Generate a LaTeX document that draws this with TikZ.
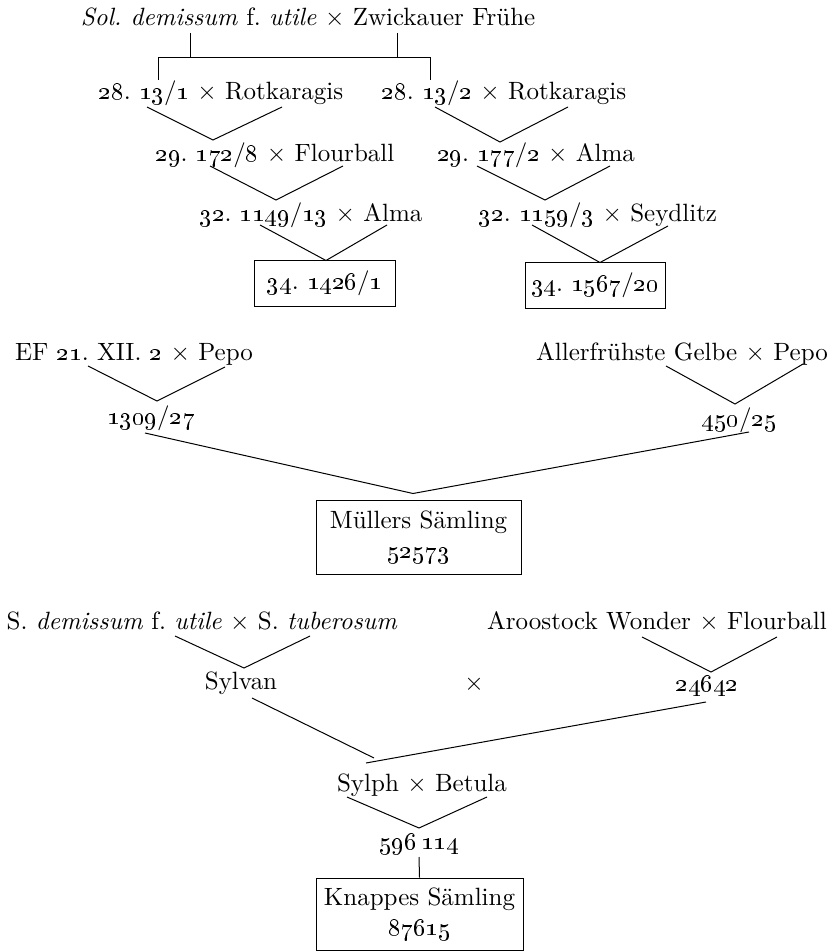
\documentclass[tikz,border=0pt]{standalone}
\usepackage{tikz}
\usetikzlibrary{calc}
\newcommand{\osn}[1]{\oldstylenums{#1}}
\frenchspacing
\tikzset{
  lbl/.style={inner sep=1pt},
  seedbox/.style={draw,inner sep=0pt,align=center},
}
\begin{document}
\begin{tikzpicture}[x=0.4pt,y=-0.4pt]
\useasboundingbox (0,0) rectangle (832,952);
% first pedigree
\node[lbl] (sol) at (308,18) {\textit{Sol. demissum} f. \textit{utile} $\times$ Zwickauer Frühe};
\node[lbl] (r1a) at (221,93) {\osn{28}. \osn{13}/\osn{1} $\times$ Rotkaragis};
\node[lbl] (r1b) at (504,93) {\osn{28}. \osn{13}/\osn{2} $\times$ Rotkaragis};
\node[lbl] (r2a) at (275,155) {\osn{29}. \osn{172}/\osn{8} $\times$ Flourball};
\node[lbl] (r2b) at (536,155) {\osn{29}. \osn{177}/\osn{2} $\times$ Alma};
\node[lbl] (r3a) at (311,215) {\osn{32}. \osn{1149}/\osn{13} $\times$ Alma};
\node[lbl] (r3b) at (598,215) {\osn{32}. \osn{1159}/\osn{3} $\times$ Seydlitz};
\node[seedbox,minimum width=56.4pt,minimum height=18pt] (bxa) at (324.5,283.5) {\osn{34}. \osn{1426}/\osn{1}};
\node[seedbox,minimum width=56pt,minimum height=18pt] (bxb) at (595,285.5) {\osn{34}. \osn{1567}/\osn{20}};
\draw ($(sol)+(-118,15)$) -- ++(0,25);
\draw ($(sol)+(89,15)$) -- ++(0,25);
\draw ($(r1a)+(-63,-13)$) |- ($(r1b)+(-74,-35)$) -- ($(r1b)+(-74,-13)$);
\draw ($(r1a)+(-74,14)$) -- ($(r2a)+(-62,-15)$) -- ($(r1a)+(61,14)$);
\draw ($(r1b)+(-69,14)$) -- ($(r2b)+(-36,-13)$) -- ($(r1b)+(64,14)$);
\draw ($(r2a)+(-65,11)$) -- ($(r3a)+(-35,-15)$) -- ($(r2a)+(68,11)$);
\draw ($(r2b)+(-59,11)$) -- ($(r3b)+(-53,-15)$) -- ($(r2b)+(74,11)$);
\draw ($(r3a)+(-51,10)$) -- ($(bxa.north)+(1.5,0)$) -- ($(r3a)+(76,10)$);
\draw ($(r3b)+(-66,10)$) -- ($(bxb.north)+(5,0)$) -- ($(r3b)+(70,11)$);
% second pedigree
\node[lbl] (ef) at (134,354) {EF \osn{21}. XII. \osn{2} $\times$ Pepo};
\node[lbl] (al) at (682,354) {Allerfrühste Gelbe $\times$ Pepo};
\node[lbl] (n1309) at (151,418) {\osn{1309}/\osn{27}};
\node[lbl] (n450) at (739,420) {\osn{450}/\osn{25}};
\node[seedbox,minimum width=82pt,minimum height=29.6pt] (mu) at (418.5,537) {Müllers Sämling\\\osn{52573}};
\draw ($(ef)+(-46,12)$) -- ($(n1309)+(6,-17)$) -- ($(ef)+(91,13)$);
\draw ($(al)+(-16,12)$) -- ($(n450)+(-4,-16)$) -- ($(al)+(121,10)$);
\draw ($(n1309)+(-6,15)$) -- ($(mu.north)+(-5.5,-6)$) -- ($(n450)+(10,12)$);
% third pedigree
\node[lbl] (sd) at (202,622) {S. \textit{demissum} f. \textit{utile} $\times$ S. \textit{tuberosum}};
\node[lbl] (aw) at (657,622) {Aroostock Wonder $\times$ Flourball};
\node[lbl] (sy) at (241,683) {Sylvan};
\node[lbl] (cx) at (474,684) {$\times$};
\node[lbl] (n246) at (707,686) {\osn{24642}};
\node[lbl] (sb) at (422,785) {Sylph $\times$ Betula};
\node[lbl] (n596) at (419,844) {\osn{596}\,\osn{114}};
\node[seedbox,minimum width=82.8pt,minimum height=28.8pt] (kn) at (419.5,914) {Knappes Sämling\\\osn{87615}};
\draw ($(sd)+(-27,14)$) -- ($(sy)+(3,-15)$) -- ($(sd)+(108,14)$);
\draw ($(aw)+(-15,15)$) -- ($(n246)+(4,-14)$) -- ($(aw)+(120,15)$);
\draw ($(sy)+(11,15)$) -- ($(sb)+(-48,-27)$);
\draw ($(n246)+(-1,16)$) -- ($(sb)+(-56,-22)$);
\draw ($(sb)+(-75,12)$) -- ($(n596)+(0,-16)$) -- ($(sb)+(65,12)$);
\draw ($(n596)+(0,13)$) -- (kn.north);
\end{tikzpicture}
\end{document}
